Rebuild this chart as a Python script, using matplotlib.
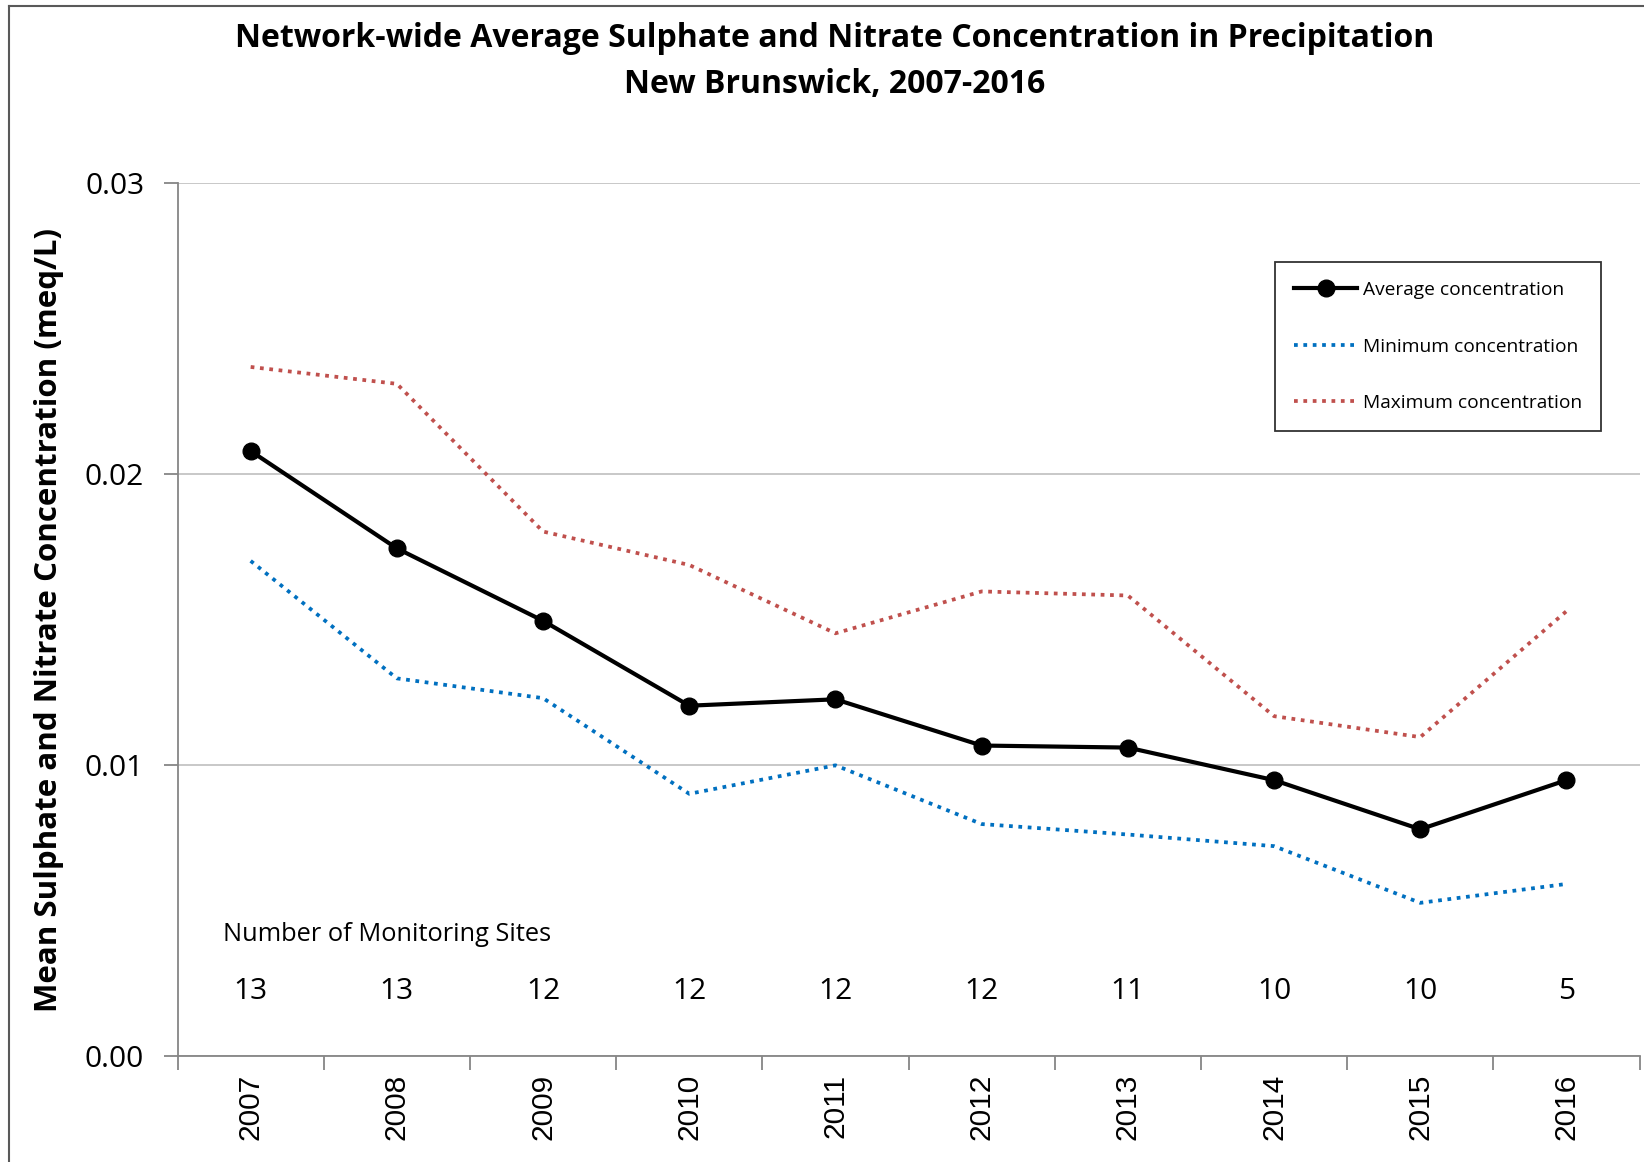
import matplotlib
matplotlib.use("Agg")
import matplotlib.pyplot as plt
from matplotlib.lines import Line2D

# data
years = ['2007', '2008', '2009', '2010', '2011', '2012', '2013', '2014', '2015', '2016']
avg_conc = [0.0208, 0.01745, 0.01496, 0.01204, 0.01226, 0.01067, 0.0106, 0.00948, 0.00779, 0.00948]
min_conc = [0.01702, 0.01298, 0.0123, 0.00901, 0.00999, 0.00797, 0.00761, 0.00721, 0.00526, 0.00591]
max_conc = [0.02369, 0.02311, 0.01803, 0.01688, 0.01453, 0.01597, 0.01583, 0.01168, 0.01096, 0.01529]
n_sites = [13, 13, 12, 12, 12, 12, 11, 10, 10, 5]

plt.rcParams['font.family'] = ['Open Sans', 'DejaVu Sans']

fig = plt.figure(figsize=(16.44, 11.62), dpi=100)
ax = fig.add_axes([0.108, 0.0914, 0.8893, 0.7507])

x = list(range(len(years)))
ax.plot(x, avg_conc, color='black', lw=3.0, marker='o', markersize=12,
        label='Average concentration', zorder=4)
ax.plot(x, min_conc, color='#0070C0', lw=2.7, linestyle=(0, (1, 1.5)),
        label='Minimum concentration', zorder=3)
ax.plot(x, max_conc, color='#C0504D', lw=2.7, linestyle=(0, (1, 1.5)),
        label='Maximum concentration', zorder=3)

ax.set_xlim(-0.5, len(years) - 0.5)
ax.set_ylim(0, 0.03)
ax.set_yticks([0, 0.01, 0.02, 0.03])
ax.set_yticklabels(['0.00', '0.01', '0.02', '0.03'], fontsize=21.5)
ax.grid(axis='y', color='#BFBFBF', lw=1.2)
ax.set_axisbelow(True)

# year labels centred on categories, ticks on category boundaries
ax.set_xticks(x)
ax.set_xticklabels(years, rotation=90, fontsize=21.5, family='Liberation Sans')
ax.set_xticks([i - 0.5 for i in range(len(years) + 1)], minor=True)
ax.tick_params(axis='x', which='major', length=0, pad=13)
ax.tick_params(axis='x', which='minor', length=10, width=1.3, color='#868686', direction='out')
ax.tick_params(axis='y', length=10, width=1.3, color='#868686', pad=14)

for s in ['top', 'right']:
    ax.spines[s].set_visible(False)
for s in ['left', 'bottom']:
    ax.spines[s].set_color('#868686')
    ax.spines[s].set_linewidth(1.3)

ax.text(-0.19, 0.00418, 'Number of Monitoring Sites', fontsize=18.3, va='center', ha='left')
for i, n in enumerate(n_sites):
    ax.text(i, 0.0022, str(n), fontsize=21.5, ha='center', va='center')

ax.set_ylabel('Mean Sulphate and Nitrate Concentration (meq/L)', fontsize=22.5,
              fontweight='bold')
ax.yaxis.set_label_coords(-0.078, 0.5)

fig.text(0.5075, 0.9665, 'Network-wide Average Sulphate and Nitrate Concentration in Precipitation',
         ha='center', va='center', fontsize=23, fontweight='bold')
fig.text(0.5075, 0.9275, 'New Brunswick, 2007-2016',
         ha='center', va='center', fontsize=23, fontweight='bold')

leg = ax.legend(loc='upper left', bbox_to_anchor=(0.7755, 0.7745),
                bbox_transform=fig.transFigure, fontsize=13.8, frameon=True,
                fancybox=False, edgecolor='black', handlelength=3.3,
                labelspacing=2.0, borderpad=1.0, handletextpad=0.3,
                borderaxespad=0)
leg.get_frame().set_linewidth(1.3)

# chart area border (left and top edges)
fig.add_artist(Line2D([9 / 1644, 9 / 1644], [0, 1 - 6 / 1162], color='#595959', lw=1.5))
fig.add_artist(Line2D([9 / 1644, 1], [1 - 6 / 1162, 1 - 6 / 1162], color='#595959', lw=1.5))

fig.savefig('out.png', dpi=100)
